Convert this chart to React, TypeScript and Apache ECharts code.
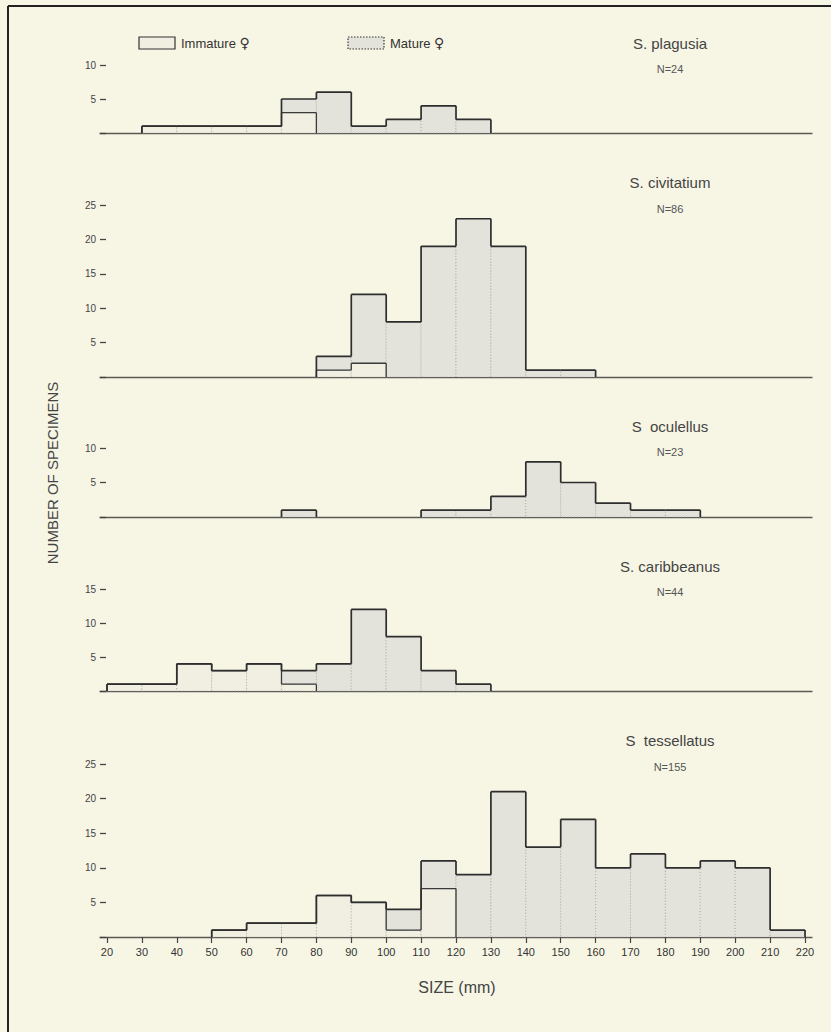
import React, { useEffect, useRef } from "react";
import * as echarts from "echarts";

// ---- data (counts per 10 mm size class, classes start at 20 … 210) ----
const binStarts = [20, 30, 40, 50, 60, 70, 80, 90, 100, 110, 120, 130, 140, 150, 160, 170, 180, 190, 200, 210];
const xTickValues = [20, 30, 40, 50, 60, 70, 80, 90, 100, 110, 120, 130, 140, 150, 160, 170, 180, 190, 200, 210, 220];

const plagusiaImmature = [0, 1, 1, 1, 1, 3, 0, 0, 0, 0, 0, 0, 0, 0, 0, 0, 0, 0, 0, 0];
const plagusiaMature = [0, 0, 0, 0, 0, 2, 6, 1, 2, 4, 2, 0, 0, 0, 0, 0, 0, 0, 0, 0];

const civitatiumImmature = [0, 0, 0, 0, 0, 0, 1, 2, 0, 0, 0, 0, 0, 0, 0, 0, 0, 0, 0, 0];
const civitatiumMature = [0, 0, 0, 0, 0, 0, 2, 10, 8, 19, 23, 19, 1, 1, 0, 0, 0, 0, 0, 0];

const oculellusImmature = [0, 0, 0, 0, 0, 0, 0, 0, 0, 0, 0, 0, 0, 0, 0, 0, 0, 0, 0, 0];
const oculellusMature = [0, 0, 0, 0, 0, 1, 0, 0, 0, 1, 1, 3, 8, 5, 2, 1, 1, 0, 0, 0];

const caribbeanusImmature = [1, 1, 4, 3, 4, 1, 0, 0, 0, 0, 0, 0, 0, 0, 0, 0, 0, 0, 0, 0];
const caribbeanusMature = [0, 0, 0, 0, 0, 2, 4, 12, 8, 3, 1, 0, 0, 0, 0, 0, 0, 0, 0, 0];

const tessellatusImmature = [0, 0, 0, 1, 2, 2, 6, 5, 1, 7, 0, 0, 0, 0, 0, 0, 0, 0, 0, 0];
const tessellatusMature = [0, 0, 0, 0, 0, 0, 0, 0, 3, 4, 9, 21, 13, 17, 10, 12, 10, 11, 10, 1];

const speciesNames = ["S. plagusia", "S. civitatium", "S  oculellus", "S. caribbeanus", "S  tessellatus"];
const speciesN = ["N=24", "N=86", "N=23", "N=44", "N=155"];
const yMax = [10, 25, 10, 15, 25];

const panels = [
  { imm: plagusiaImmature, mat: plagusiaMature },
  { imm: civitatiumImmature, mat: civitatiumMature },
  { imm: oculellusImmature, mat: oculellusMature },
  { imm: caribbeanusImmature, mat: caribbeanusMature },
  { imm: tessellatusImmature, mat: tessellatusMature },
];

// ---- layout ----
const gridTops = [65, 205, 448, 589, 764];
const gridHeights = [68, 172, 69, 102, 173];
const titleY = [43, 182, 426, 566, 740];
const nY = [69, 209, 452, 592, 767];

const BIN = 10;
const FONT = "'Liberation Sans','Arial',sans-serif";
const BG = "#f7f6e5";
const IMM_FILL = "#f0efe2";
const MAT_FILL = "#e3e3dc";
const INK = "#2e2e2e";

function fillRender(params: any, api: any) {
  const a = api.value(0);
  const imm = api.value(1);
  const mat = api.value(2);
  const children: any[] = [];
  const rectOf = (y0: number, y1: number, fill: string) => {
    const p0 = api.coord([a, y0]);
    const p1 = api.coord([a + BIN, y1]);
    return {
      type: "rect",
      shape: { x: p0[0], y: p1[1], width: p1[0] - p0[0], height: p0[1] - p1[1] },
      style: { fill, stroke: "#9d9d92", lineWidth: 0.7, lineDash: [1, 2] },
    };
  };
  if (imm > 0) children.push(rectOf(0, imm, IMM_FILL));
  if (mat > 0) children.push(rectOf(imm, imm + mat, MAT_FILL));
  return { type: "group", children };
}

function makeStepRender(width: number, color: string) {
  return (params: any, api: any) => {
    const a = api.value(0);
    const v = api.value(1);
    const prev = api.value(2);
    const isLast = api.value(3);
    const children: any[] = [];
    const seg = (x1: number, y1: number, x2: number, y2: number) => {
      const p = api.coord([x1, y1]);
      const q = api.coord([x2, y2]);
      children.push({
        type: "line",
        shape: { x1: p[0], y1: p[1], x2: q[0], y2: q[1] },
        style: { stroke: color, lineWidth: width },
      });
    };
    if (v !== prev) seg(a, prev, a, v);
    if (v > 0) seg(a, v, a + BIN, v);
    if (isLast && v > 0) seg(a + BIN, v, a + BIN, 0);
    return { type: "group", children };
  };
}

function stepData(values: number[]) {
  return binStarts.map((s, i) => [s, values[i], i > 0 ? values[i - 1] : 0, i === binStarts.length - 1 ? 1 : 0]);
}

export default function App() {
  const ref = useRef<HTMLDivElement>(null);

  useEffect(() => {
    if (!ref.current) return;
    const chart = echarts.init(ref.current, undefined, { renderer: "svg" });

    const grids = gridTops.map((t, i) => ({ left: 100, right: 19, top: t, height: gridHeights[i] }));

    const xAxes = panels.map((_, i) => {
      const last = i === panels.length - 1;
      return {
        type: "value",
        gridIndex: i,
        min: 18,
        max: 222,
        axisLine: { show: true, lineStyle: { color: "#5a5a55", width: 1.3 } },
        axisTick: last
          ? { show: true, customValues: xTickValues, length: 6, lineStyle: { color: "#444", width: 1.2 } }
          : { show: false },
        axisLabel: last
          ? { show: true, customValues: xTickValues, color: "#333", fontSize: 11, fontFamily: FONT, margin: 9 }
          : { show: false },
        splitLine: { show: false },
      };
    });

    const yAxes = panels.map((_, i) => ({
      type: "value",
      gridIndex: i,
      min: 0,
      max: yMax[i],
      interval: 5,
      axisLine: { show: false },
      axisTick: { show: true, inside: true, length: 6, lineStyle: { color: "#444", width: 1.3 } },
      axisLabel: {
        color: "#444",
        fontSize: 10,
        fontFamily: FONT,
        margin: 4,
        formatter: (v: number) => (v === 0 ? "" : String(v)),
      },
      splitLine: { show: false },
    }));

    const series: any[] = [];
    panels.forEach((p, i) => {
      const totals = p.imm.map((v, k) => v + p.mat[k]);
      series.push({
        type: "custom",
        name: "fill" + i,
        xAxisIndex: i,
        yAxisIndex: i,
        renderItem: fillRender,
        data: binStarts.map((s, k) => [s, p.imm[k], p.mat[k]]),
        silent: true,
      });
      series.push({
        type: "custom",
        name: "imm" + i,
        xAxisIndex: i,
        yAxisIndex: i,
        renderItem: makeStepRender(1.3, "#3a3a3a"),
        data: stepData(p.imm),
        silent: true,
      });
      series.push({
        type: "custom",
        name: "total" + i,
        xAxisIndex: i,
        yAxisIndex: i,
        renderItem: makeStepRender(1.7, INK),
        data: stepData(totals),
        silent: true,
      });
    });

    const femaleRich = {
      f: { fontFamily: "'DejaVu Sans'", fontSize: 14, fill: "#333" },
    };

    const graphics: any[] = [
      // frame
      { type: "line", shape: { x1: 8, y1: 6, x2: 831, y2: 6 }, style: { stroke: "#222", lineWidth: 2 } },
      { type: "line", shape: { x1: 8, y1: 6, x2: 8, y2: 1032 }, style: { stroke: "#222", lineWidth: 2 } },
      // legend
      {
        type: "rect",
        shape: { x: 139, y: 37, width: 36, height: 12 },
        style: { fill: IMM_FILL, stroke: "#333", lineWidth: 1.2 },
      },
      {
        type: "text",
        x: 181,
        y: 43,
        style: {
          text: "Immature {f|\u2640}",
          fill: "#333",
          font: `13px ${FONT}`,
          textVerticalAlign: "middle",
          rich: femaleRich,
        },
      },
      {
        type: "rect",
        shape: { x: 348, y: 37, width: 36, height: 12 },
        style: { fill: MAT_FILL, stroke: "#333", lineWidth: 1.2, lineDash: [1.5, 1.5] },
      },
      {
        type: "text",
        x: 390,
        y: 43,
        style: {
          text: "Mature {f|\u2640}",
          fill: "#333",
          font: `13px ${FONT}`,
          textVerticalAlign: "middle",
          rich: femaleRich,
        },
      },
      // axis names
      {
        type: "text",
        x: 52,
        y: 473,
        rotation: Math.PI / 2,
        style: {
          text: "NUMBER OF SPECIMENS",
          fill: "#444",
          font: `15px ${FONT}`,
          textAlign: "center",
          textVerticalAlign: "middle",
        },
      },
      {
        type: "text",
        x: 457,
        y: 987,
        style: { text: "SIZE (mm)", fill: "#444", font: `16px ${FONT}`, textAlign: "center", textVerticalAlign: "middle" },
      },
    ];
    speciesNames.forEach((name, i) => {
      graphics.push({
        type: "text",
        x: 670,
        y: titleY[i],
        style: { text: name, fill: "#444", font: `15px ${FONT}`, textAlign: "center", textVerticalAlign: "middle" },
      });
      graphics.push({
        type: "text",
        x: 670,
        y: nY[i],
        style: { text: speciesN[i], fill: "#555", font: `11px ${FONT}`, textAlign: "center", textVerticalAlign: "middle" },
      });
    });

    chart.setOption({
      animation: false,
      backgroundColor: BG,
      grid: grids,
      xAxis: xAxes,
      yAxis: yAxes,
      series,
      graphic: graphics,
    });

    return () => chart.dispose();
  }, []);

  return (
    <div
      ref={ref}
      style={{ position: "fixed", left: 0, top: 0, width: 831, height: 1032 }}
    />
  );
}
